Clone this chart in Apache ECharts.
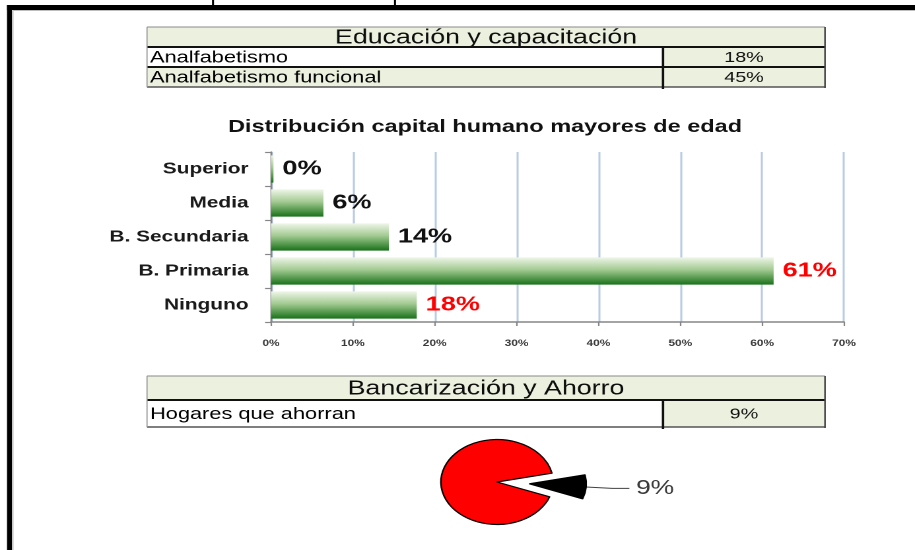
<!DOCTYPE html>
<html>
<head>
<meta charset="utf-8">
<script src="https://cdn.jsdelivr.net/npm/echarts@6/dist/echarts.min.js"></script>
<style>
html, body { margin: 0; padding: 0; background: #ffffff; overflow: hidden; }
#wrap { width: 915px; height: 550px; overflow: hidden; position: relative; }
#chart { width: 693px; height: 550px; transform: scaleX(1.3203); transform-origin: 0 0; }
</style>
</head>
<body>
<div id="wrap"><div id="chart"></div></div>
<script>
// ---------------- data ----------------
const eduTitle = 'Educación y capacitación';
const eduLabels = ['Analfabetismo', 'Analfabetismo funcional'];
const eduValues = ['18%', '45%'];

const barTitle = 'Distribución capital humano mayores de edad';
const categories = ['Superior', 'Media', 'B. Secundaria', 'B. Primaria', 'Ninguno'];
const shares = [0.3, 6.4, 14.4, 61.4, 17.8];
const redCategories = ['B. Primaria', 'Ninguno'];

const bankTitle = 'Bancarización y Ahorro';
const bankLabels = ['Hogares que ahorran'];
const bankValues = ['9%'];

const pieNames = ['Hogares que ahorran', 'Hogares que no ahorran'];
const pieValues = [9, 91];

// ---------------- layout helpers ----------------
const SX = 1.3203;              // horizontal stretch of the picture
const px = v => v / SX;         // picture x -> design x
const FONT = '"Liberation Sans", Arial, sans-serif';

function table(yTop, headH, rowH, title, labels, values) {
  const L = px(147), R = px(825), D = px(663);
  const els = [];
  const yBot = yTop + headH + labels.length * rowH;
  els.push({ type: 'rect', shape: { x: L, y: yTop, width: R - L, height: headH }, style: { fill: '#EBF1DE' } });
  els.push({ type: 'text', x: (L + R) / 2, y: yTop + headH / 2 + 1,
    style: { text: title, font: '20.3px ' + FONT, fill: '#0d0d0d', align: 'center', verticalAlign: 'middle' } });
  labels.forEach((lab, i) => {
    const y = yTop + headH + i * rowH;
    els.push({ type: 'rect', shape: { x: L, y: y, width: D - L, height: rowH }, style: { fill: i % 2 === 1 ? '#EBF1DE' : '#FFFFFF' } });
    els.push({ type: 'rect', shape: { x: D, y: y, width: R - D, height: rowH }, style: { fill: '#EBF1DE' } });
    els.push({ type: 'text', x: L + px(3), y: y + rowH / 2 + 1,
      style: { text: lab, font: '16.5px ' + FONT, fill: '#000', align: 'left', verticalAlign: 'middle' } });
    els.push({ type: 'text', x: (D + R) / 2, y: y + rowH / 2 + 1,
      style: { text: values[i], font: '15px ' + FONT, fill: '#111', align: 'center', verticalAlign: 'middle' } });
    els.push({ type: 'line', shape: { x1: L, y1: y, x2: R, y2: y }, style: { stroke: '#111', lineWidth: 2 } });
  });
  els.push({ type: 'line', shape: { x1: L, y1: yTop, x2: R, y2: yTop }, style: { stroke: '#8a8a8a', lineWidth: 1 } });
  els.push({ type: 'line', shape: { x1: L, y1: yBot, x2: R, y2: yBot }, style: { stroke: '#555', lineWidth: 1.5 } });
  els.push({ type: 'line', shape: { x1: L, y1: yTop, x2: L, y2: yBot }, style: { stroke: '#9a9a9a', lineWidth: px(1.2) } });
  els.push({ type: 'line', shape: { x1: R, y1: yTop, x2: R, y2: yBot + 1 }, style: { stroke: '#444', lineWidth: px(1.6) } });
  els.push({ type: 'line', shape: { x1: D, y1: yTop + headH, x2: D, y2: yBot + 2 }, style: { stroke: '#111', lineWidth: px(2.4) } });
  return els;
}

const frame = [
  { type: 'line', shape: { x1: px(9.5), y1: 5, x2: px(9.5), y2: 550 }, style: { stroke: '#000', lineWidth: px(5) } },
  { type: 'line', shape: { x1: px(7), y1: 7.5, x2: 700, y2: 7.5 }, style: { stroke: '#000', lineWidth: 5 } },
  { type: 'line', shape: { x1: px(13), y1: 10.5, x2: px(13), y2: 550 }, style: { stroke: '#bdbdbd', lineWidth: px(1) } },
  { type: 'line', shape: { x1: px(13), y1: 10.5, x2: 700, y2: 10.5 }, style: { stroke: '#bdbdbd', lineWidth: 1 } },
  { type: 'line', shape: { x1: px(213), y1: 0, x2: px(213), y2: 5 }, style: { stroke: '#000', lineWidth: px(2) } },
  { type: 'line', shape: { x1: px(395), y1: 0, x2: px(395), y2: 5 }, style: { stroke: '#000', lineWidth: px(2) } }
];

const barGradient = new echarts.graphic.LinearGradient(0, 0, 0, 1, [
  { offset: 0, color: '#EEF6E9' },
  { offset: 0.45, color: '#A3CB92' },
  { offset: 1, color: '#1A721A' }
]);

const barData = shares.map((v, i) => ({
  value: v,
  label: { color: redCategories.includes(categories[i]) ? '#FF0000' : '#111111' }
}));

const pieData = pieValues.map((v, i) => i === 0 ? {
  name: pieNames[i], value: v, selected: true,
  itemStyle: { color: '#000000', borderColor: '#000000', borderWidth: 1.5 },
  select: { itemStyle: { color: '#000000', borderColor: '#000000' } },
  label: { show: true },
  labelLine: { show: true }
} : {
  name: pieNames[i], value: v,
  itemStyle: { color: '#FF0000', borderColor: '#000000', borderWidth: 1.2 },
  label: { show: false },
  labelLine: { show: false }
});

const chart = echarts.init(document.getElementById('chart'), null, { renderer: 'canvas', devicePixelRatio: 2 });
chart.setOption({
  animation: false,
  backgroundColor: '#ffffff',
  title: {
    text: barTitle,
    left: px(485), top: 118, textAlign: 'center', padding: 0,
    textStyle: { fontFamily: FONT, fontWeight: 'bold', fontSize: 17.8, color: '#111' }
  },
  grid: { left: px(271), top: 152, width: px(844) - px(271), height: 170, containLabel: false },
  xAxis: {
    type: 'value', min: 0, max: 70, interval: 10,
    axisLine: { show: true, lineStyle: { color: '#868686', width: 1.5 } },
    axisTick: { show: true, length: 4, lineStyle: { color: '#868686', width: px(1.5) } },
    axisLabel: { formatter: '{value}%', fontFamily: FONT, fontWeight: 'bold', fontSize: 9, color: '#3a3a3a', margin: 17 },
    splitLine: { show: true, lineStyle: { color: '#B9CBE6', width: px(2) } }
  },
  yAxis: {
    type: 'category', data: categories, inverse: true,
    axisLine: { show: true, lineStyle: { color: '#868686', width: px(1.8) } },
    axisTick: { show: true, length: px(6), lineStyle: { color: '#868686', width: 1.2 } },
    axisLabel: { fontFamily: FONT, fontWeight: 'bold', fontSize: 15.8, color: '#1a1a1a', margin: 17 },
    splitLine: { show: false }
  },
  series: [
    {
      type: 'bar', data: barData, barCategoryGap: '20%',
      itemStyle: { color: barGradient },
      label: {
        show: true, position: 'right', distance: px(9),
        fontFamily: FONT, fontWeight: 'bold', fontSize: 20.5,
        formatter: p => Math.round(p.value) + '%'
      },
      emphasis: { disabled: true }
    },
    {
      type: 'pie', center: [px(497), 482], radius: 42.5,
      startAngle: 12, clockwise: true,
      selectedMode: 'single', selectedOffset: px(33),
      data: pieData,
      label: {
        position: 'outside', formatter: p => p.value + '%',
        fontFamily: FONT, fontSize: 20, color: '#3a3a3a'
      },
      labelLine: { length: 20, length2: 13, lineStyle: { color: '#404040', width: 1 } },
      emphasis: { disabled: true }
    }
  ],
  graphic: [].concat(
    frame,
    table(27, 20, 20, eduTitle, eduLabels, eduValues),
    table(376, 24, 27, bankTitle, bankLabels, bankValues)
  )
});
</script>
</body>
</html>
